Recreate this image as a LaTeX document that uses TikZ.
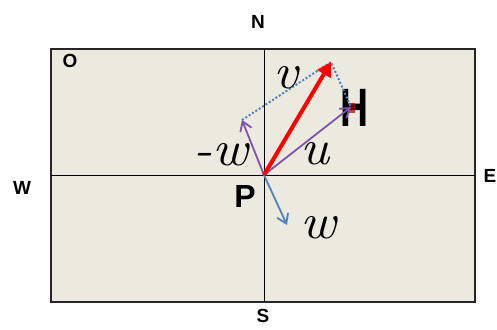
\documentclass[tikz,border=0pt]{standalone}
\usepackage{fontspec}
\setsansfont{Liberation Sans}
\usetikzlibrary{arrows.meta}
\definecolor{bgbeige}{HTML}{ECE9DF}
\definecolor{vpurple}{HTML}{7D55A8}
\definecolor{vblue}{HTML}{4F81BD}
\tikzset{
  compass/.style={font=\sffamily\bfseries\fontsize{19}{19}\selectfont},
  vlabel/.style={inner sep=0pt, font=\rmfamily\itshape\fontsize{50}{50}\selectfont, xscale=1.1},
  thinvec/.style={line width=1.8pt, -{Straight Barb[length=9pt,width=12pt,line width=1.8pt]}},
}
\begin{document}
\begin{tikzpicture}[x=1pt,y=-1pt]
\useasboundingbox (0,0) rectangle (497,329);
\draw[fill=bgbeige, line width=1.6pt, draw=black!85] (51,49) rectangle (475,302);
\coordinate (P) at (264,175);
\draw[line width=1pt] (264,49) -- (264,302);
\draw[line width=1pt] (51,175) -- (475,175);
% compass labels
\node[compass] (N) at (258,22) {N};
\node[compass] (S) at (263,316) {S};
\node[compass] (W) at (22,188) {W};
\node[compass] (E) at (490,176) {E};
\node[compass] (O) at (70,61) {O};
\node[font=\sffamily\bfseries\fontsize{32}{32}\selectfont] (Pl) at (245,196) {P};
% H
\node[font=\sffamily\bfseries\fontsize{54}{54}\selectfont, xscale=0.72, inner sep=0pt] (H) at (355,108) {H};
\coordinate (Ht) at (351,107);
\fill[red!70!black, opacity=0.7] (349,103) rectangle (355,113);
\coordinate (Vt) at (331,62);
\coordinate (Mw) at (242,120);
\coordinate (Wt) at (287,225);
% dotted parallelogram sides
\draw[vblue, line width=2pt, dotted] (Mw) -- (Vt) -- (Ht);
% vectors
\draw[thinvec, vpurple] (P) -- (Mw);
\draw[thinvec, vpurple] (P) -- (Ht);
\draw[thinvec, vblue] (P) -- (Wt);
\draw[red, line width=4pt, -{Triangle[length=14pt,width=15pt]}] (P) -- (Vt);
% labels
\node[vlabel, anchor=center] (vl) at (286,78) {v};
\node[vlabel] (ul) at (315,154) {u};
\node[vlabel] (wl) at (318,228) {w};
\node[vlabel] (mwl) at (221,155) {-w};
\end{tikzpicture}
\end{document}
